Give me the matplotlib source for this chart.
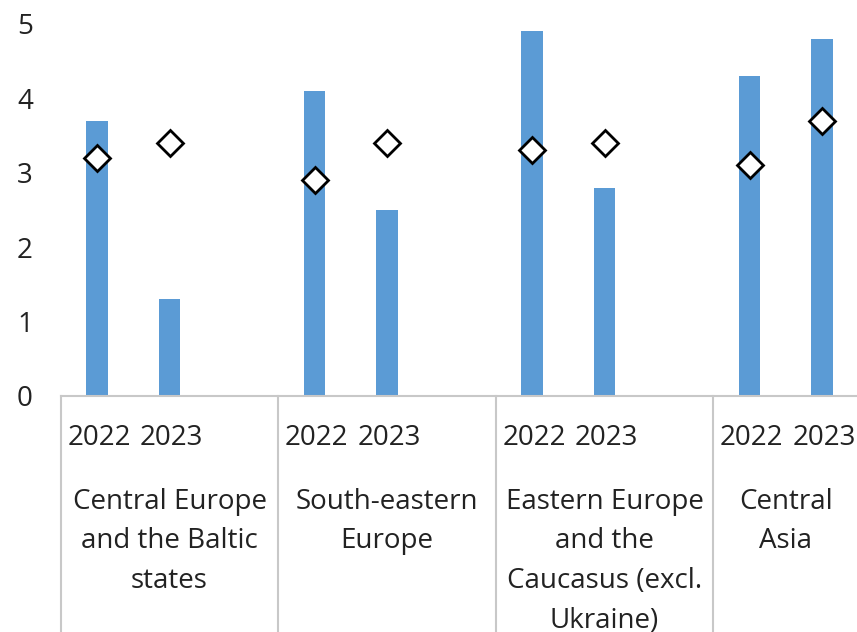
import matplotlib.pyplot as plt
from matplotlib.transforms import blended_transform_factory

# data
regions = ['Central Europe\nand the Baltic\nstates', 'South-eastern\nEurope',
           'Eastern Europe\nand the\nCaucasus (excl.\nUkraine)', 'Central\nAsia']
years = ['2022', '2023']
bar_vals = [3.7, 1.3, 4.1, 2.5, 4.9, 2.8, 4.3, 4.8]
diamond_vals = [3.2, 3.4, 2.9, 3.4, 3.3, 3.4, 3.1, 3.7]

plt.rcParams['font.family'] = ['Open Sans', 'DejaVu Sans']

# slot positions: two years per region, one empty slot between regions
xpos = []
for g in range(len(regions)):
    for k in range(len(years)):
        xpos.append(g * 3 + k)

fig = plt.figure(figsize=(8.57, 6.32), dpi=100)
ax = fig.add_axes([60.75 / 857, (632 - 396) / 632, 797.5 / 857, 372 / 632])

ax.bar(xpos, bar_vals, width=0.3, color='#5B9BD5', zorder=2)
ax.plot(xpos, diamond_vals, linestyle='none', marker='D', markersize=13,
        markerfacecolor='white', markeredgecolor='black', markeredgewidth=2, zorder=3)

ax.set_xlim(-0.5, 10.5)
ax.set_ylim(0, 5)
ax.set_yticks([0, 1, 2, 3, 4, 5])
ax.tick_params(axis='y', length=0, pad=20, labelsize=20, labelcolor='#222222')
ax.set_xticks([])
for s in ['top', 'right', 'left']:
    ax.spines[s].set_visible(False)
ax.spines['bottom'].set_color('#c8c8c8')
ax.spines['bottom'].set_linewidth(1.5)

# multi-level category axis
trans = blended_transform_factory(ax.transData, ax.transAxes)
for x, y in zip(xpos, years * len(regions)):
    ax.text(x + 0.03, -0.112, y, transform=trans, ha='center', va='center',
            fontsize=20, color='#222222', clip_on=False)
for g, name in enumerate(regions):
    left = g * 3 - 0.5
    right = min(g * 3 + 2.5, 10.5)
    ax.text((left + right) / 2, -0.247, name, transform=trans, ha='center', va='top',
            fontsize=20, color='#222222', linespacing=1.55, clip_on=False)
    ax.plot([left, left], [0, -0.7], transform=trans, color='#c8c8c8',
            linewidth=1.5, clip_on=False)

fig.savefig('out.png', dpi=100)
